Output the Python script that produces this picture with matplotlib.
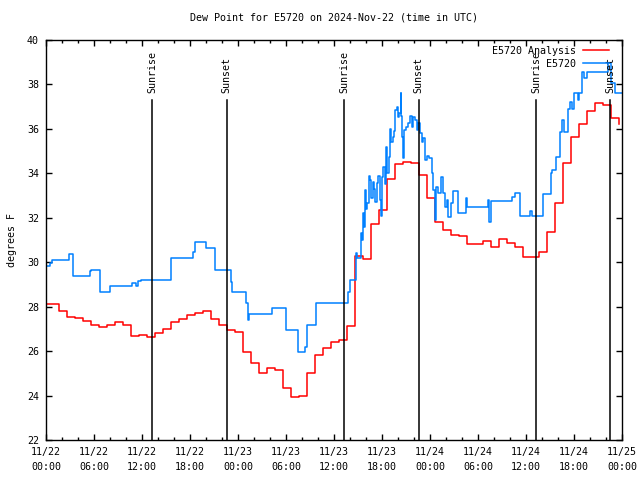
import matplotlib
matplotlib.use("Agg")
import matplotlib.pyplot as plt
import numpy as np

# hours since 2024-11-22 00:00 UTC
red_times = [-0.4] + [k + 0.6 for k in range(72)]
red_vals = [28.1, 28.1, 27.8, 27.52, 27.47, 27.34, 27.16, 27.07, 27.16, 27.3,
            27.16, 26.67, 26.71, 26.62, 26.8, 26.98, 27.33, 27.43, 27.61, 27.7,
            27.8, 27.43, 27.16, 26.95, 26.86, 25.95, 25.45, 25.0, 25.24, 25.15,
            24.33, 23.95, 23.98, 25.0, 25.81, 26.16, 26.4, 26.5, 27.15, 30.28,
            30.13, 31.7, 32.35, 33.73, 34.4, 34.51, 34.45, 33.93, 32.9, 31.8,
            31.44, 31.23, 31.2, 30.8, 30.8, 30.96, 30.7, 31.03, 30.88, 30.67,
            30.22, 30.25, 30.47, 31.35, 32.65, 34.48, 35.65, 36.22, 36.8, 37.18,
            37.08, 36.47, 36.22]

blue_times = [0.0, 0.5, 0.75, 2.83, 3.37, 5.46, 5.67, 6.7, 7.96, 10.8,
              11.3, 11.5, 11.9, 15.67, 18.4, 18.6, 20.0, 21.1, 23.1, 23.2,
              25.0, 25.2, 25.4, 28.3, 30.0, 31.5, 32.4, 32.6, 33.75, 37.8,
              38.0, 38.75, 38.92, 39.42, 39.54, 39.67, 39.79, 39.92, 40.04, 40.17,
              40.33, 40.5, 40.67, 40.83, 41.0, 41.17, 41.33, 41.54, 41.75, 41.87,
              42.0, 42.17, 42.33, 42.5, 42.67, 42.83, 43.0, 43.17, 43.33, 43.5,
              43.67, 43.83, 44.0, 44.17, 44.33, 44.42, 44.54, 44.67, 44.79, 45.0,
              45.25, 45.5, 45.71, 45.92, 46.12, 46.33, 46.54, 46.75, 46.96, 47.17,
              47.37, 47.67, 47.92, 48.2, 48.42, 48.62, 48.75, 49.04, 49.37, 49.58,
              49.87, 50.08, 50.29, 50.58, 50.92, 51.54, 52.5, 52.67, 55.29, 55.42,
              55.58, 58.2, 58.6, 59.25, 60.5, 60.75, 61.1, 62.1, 63.1, 63.3,
              63.8, 64.3, 64.5, 64.8, 65.2, 65.5, 65.8, 66.0, 66.5, 66.6,
              67.0, 67.3, 67.6, 70.3, 70.6, 71.1, 72.0]
blue_vals = [29.83, 29.95, 30.09, 30.36, 29.38, 29.62, 29.65, 28.66, 28.93, 29.08,
             28.93, 29.17, 29.2, 30.18, 30.48, 30.93, 30.63, 29.65, 29.12, 28.68,
             28.15, 27.4, 27.65, 27.93, 26.95, 25.95, 26.2, 27.18, 28.15, 28.68,
             29.2, 30.4, 30.18, 31.3, 31.0, 32.2, 31.6, 33.25, 32.4, 32.65,
             33.9, 33.7, 32.9, 33.6, 33.3, 32.7, 33.55, 33.9, 32.8, 32.1,
             33.85, 34.3, 33.5, 35.2, 34.0, 34.75, 36.0, 35.4, 35.65, 35.9,
             36.85, 37.0, 36.55, 36.7, 37.6, 36.6, 35.65, 34.7, 35.95, 36.1,
             36.25, 36.6, 36.1, 36.55, 36.4, 35.95, 36.25, 35.8, 35.43, 35.6,
             34.6, 34.8, 34.7, 34.0, 33.25, 31.9, 33.4, 33.1, 33.85, 33.1,
             32.5, 32.8, 32.05, 32.65, 33.2, 32.2, 32.9, 32.5, 32.8, 31.8,
             32.77, 32.95, 33.1, 32.1, 32.32, 32.1, 32.1, 33.05, 34.0, 34.15,
             34.75, 35.87, 36.4, 35.87, 36.9, 37.2, 36.9, 37.6, 37.3, 37.6,
             38.58, 38.3, 38.58, 38.95, 38.05, 37.6, 37.6]

sunrise = [13.3, 37.3, 61.3]
sunset = [22.6, 46.6, 70.55]

tick_hours = list(range(0, 73, 6))
tick_labels = ["11/22\n00:00", "11/22\n06:00", "11/22\n12:00", "11/22\n18:00",
               "11/23\n00:00", "11/23\n06:00", "11/23\n12:00", "11/23\n18:00",
               "11/24\n00:00", "11/24\n06:00", "11/24\n12:00", "11/24\n18:00",
               "11/25\n00:00"]

plt.rcParams['font.family'] = ['DejaVu Sans Mono']
plt.rcParams['font.size'] = 7.2

fig = plt.figure(figsize=(6.4, 4.8), dpi=100)
ax = fig.add_axes([46 / 640, 40 / 480, 576 / 640, 400 / 480])

ax.plot(red_times, red_vals, color='#ff0000', lw=1.1, drawstyle='steps-post',
        label='E5720 Analysis')
ax.plot(blue_times, blue_vals, color='#0080ff', lw=1.1, drawstyle='steps-post',
        label='E5720')

for t in sunrise:
    ax.plot([t, t], [22, 37.3], color='black', lw=1.1)
    ax.text(t, 37.6, 'Sunrise', rotation=90, ha='center', va='bottom')
for t in sunset:
    ax.plot([t, t], [22, 37.3], color='black', lw=1.1)
    ax.text(t, 37.6, 'Sunset', rotation=90, ha='center', va='bottom')

ax.set_xlim(0, 72)
ax.set_ylim(22, 40)
ax.set_yticks(np.arange(22, 41, 2))
ax.set_xticks(tick_hours)
ax.set_xticklabels(tick_labels, linespacing=1.6)
ax.set_xticks(range(0, 73, 2), minor=True)
ax.tick_params(which='both', direction='in', top=True, right=True, width=1)
ax.tick_params(which='major', length=4.5, pad=5)
ax.tick_params(which='minor', length=2.5)
for s in ax.spines.values():
    s.set_linewidth(1)

ax.set_ylabel('degrees F', labelpad=7)
ax.set_title('Dew Point for E5720 on 2024-Nov-22 (time in UTC)', fontsize=7.2,
             pad=14)

ax.legend(loc='upper right', bbox_to_anchor=(0.985, 0.995), frameon=False,
          markerfirst=False, handlelength=2.6, borderaxespad=0.0,
          labelspacing=0.3, handletextpad=0.7)

fig.savefig('out.png', dpi=100)
